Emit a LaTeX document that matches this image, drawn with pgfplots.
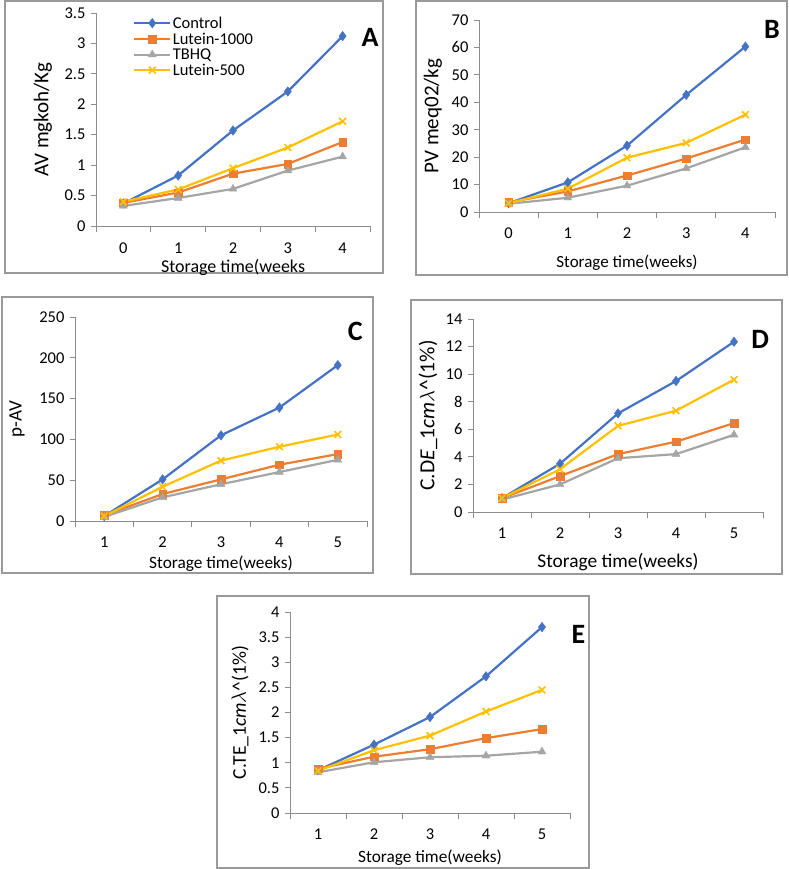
\documentclass[border=0pt]{standalone}
\usepackage{fontspec}
\setmainfont{Carlito}
\usepackage{pgfplots}
\pgfplotsset{compat=1.18}
\definecolor{cblue}{HTML}{4472C4}
\definecolor{corange}{HTML}{ED7D31}
\definecolor{cgray}{HTML}{A5A5A5}
\definecolor{cyellow}{HTML}{FFC000}
\definecolor{axisgray}{HTML}{8C8C8C}
\definecolor{framegray}{HTML}{9A9A9A}
\newcommand{\tfont}{\fontsize{16.5}{19}\selectfont}
\pgfplotsset{
  panel/.style={
    scale only axis, anchor=south west,
    axis lines=left, axis line style={-, draw=axisgray, line width=1pt},
    tick style={draw=axisgray, line width=1pt},
    tick align=outside, major tick length=5pt, minor tick length=6pt,
    major x tick style={draw=none},
    tick label style={font=\tfont},
    xticklabel style={yshift=-7pt},
    yticklabel style={xshift=-2pt},
    /pgf/number format/assume math mode=true,
    every axis y label/.style={at={(axis description cs:0,0.5)},rotate=90,anchor=center},
    every axis x label/.style={at={(axis description cs:0.5,0)},anchor=center},
    clip=false,
  },
  ctrl/.style={color=cblue, line width=2.2pt, mark=diamond*, mark size=4.8pt, mark options={line width=0.4pt}},
  lten/.style={color=corange, line width=2.2pt, mark=square*, mark size=3.8pt, mark options={line width=0.4pt}},
  tbhq/.style={color=cgray, line width=2.2pt, mark=triangle*, mark size=4.6pt, mark options={line width=0.4pt}},
  lfive/.style={color=cyellow, line width=2.2pt, mark=x, mark size=4.8pt, mark options={line width=1.6pt}},
}
\begin{document}
\begin{tikzpicture}
\useasboundingbox (0pt,0pt) rectangle (788pt,-869pt);
% frames
\draw[framegray, line width=1.3pt] (5pt,-1pt) rectangle (383pt,-273pt);
\draw[framegray, line width=1.3pt] (416pt,-1pt) rectangle (787pt,-275pt);
\draw[framegray, line width=1.3pt] (2pt,-297pt) rectangle (373pt,-573pt);
\draw[framegray, line width=1.3pt] (411pt,-300pt) rectangle (782pt,-574pt);
\draw[framegray, line width=1.3pt] (217pt,-596pt) rectangle (589pt,-868pt);

% Panel A
\begin{axis}[panel, at={(96pt,-226pt)}, width=274pt, height=213pt,
  xmin=-0.5, xmax=4.5, ymin=0, ymax=3.5,
  xtick={0,1,2,3,4}, minor xtick={-0.5,0.5,1.5,2.5,3.5,4.5},
  ytick={0,0.5,1,1.5,2,2.5,3,3.5},
  xticklabel style={yshift=-1pt},
  xlabel={Storage time(weeks}, ylabel={AV mgkoh/Kg},
  xlabel style={yshift=-41pt, font=\fontsize{18}{20}\selectfont},
  ylabel style={yshift=53pt, font=\fontsize{21}{24}\selectfont},
  legend style={at={(axis description cs:0.124,1.0)}, anchor=north west, draw=none, fill=none,
    font=\fontsize{16.5}{19}\selectfont, row sep=0pt, nodes={inner sep=1.5pt}},
  legend cell align=left,
  legend image code/.code={\draw[mark repeat=2,mark phase=2] plot coordinates {(0pt,0pt) (18pt,0pt) (36pt,0pt)};},
]
\addplot[ctrl] coordinates {(0,0.37) (1,0.83) (2,1.57) (3,2.21) (4,3.12)};
\addplot[lten] coordinates {(0,0.38) (1,0.55) (2,0.86) (3,1.02) (4,1.38)};
\addplot[tbhq] coordinates {(0,0.33) (1,0.46) (2,0.61) (3,0.91) (4,1.14)};
\addplot[lfive] coordinates {(0,0.40) (1,0.60) (2,0.95) (3,1.29) (4,1.72)};
\legend{Control, Lutein-1000, TBHQ, Lutein-500}
\node[font=\bfseries\fontsize{28}{30}\selectfont] at (axis cs:4.5,3.1) {A};
\end{axis}

% Panel B
\begin{axis}[panel, at={(479pt,-212pt)}, width=296pt, height=192pt,
  xmin=-0.5, xmax=4.5, ymin=0, ymax=70,
  xtick={0,1,2,3,4}, minor xtick={-0.5,0.5,1.5,2.5,3.5,4.5},
  ytick={0,10,20,30,40,50,60,70},
  xlabel={Storage time(weeks)}, ylabel={PV meq02/kg},
  xlabel style={yshift=-51pt, font=\fontsize{17}{20}\selectfont},
  ylabel style={yshift=46pt, font=\fontsize{21}{24}\selectfont},
]
\addplot[ctrl] coordinates {(0,3.2) (1,10.8) (2,24.2) (3,42.7) (4,60.3)};
\addplot[lten] coordinates {(0,3.5) (1,7.5) (2,13.3) (3,19.5) (4,26.4)};
\addplot[tbhq] coordinates {(0,3.0) (1,5.2) (2,9.6) (3,15.9) (4,23.6)};
\addplot[lfive] coordinates {(0,3.2) (1,8.5) (2,19.8) (3,25.2) (4,35.5)};
\node[font=\bfseries\fontsize{28}{30}\selectfont] at (axis cs:4.45,66.5) {B};
\end{axis}

% Panel C
\begin{axis}[panel, at={(75pt,-521pt)}, width=292pt, height=204pt,
  xmin=0.5, xmax=5.5, ymin=0, ymax=250,
  xtick={1,2,3,4,5}, minor xtick={0.5,1.5,2.5,3.5,4.5,5.5},
  ytick={0,50,100,150,200,250},
  xlabel={Storage time(weeks)}, ylabel={p-AV},
  xlabel style={yshift=-43pt, font=\fontsize{17.3}{20}\selectfont},
  ylabel style={yshift=58pt, font=\fontsize{19}{22}\selectfont},
]
\addplot[ctrl] coordinates {(1,6) (2,51) (3,105) (4,139) (5,191)};
\addplot[lten] coordinates {(1,7) (2,33) (3,51) (4,69) (5,82)};
\addplot[tbhq] coordinates {(1,5) (2,29) (3,45) (4,60) (5,75)};
\addplot[lfive] coordinates {(1,6) (2,42) (3,74) (4,91) (5,106)};
\node[font=\bfseries\fontsize{28}{30}\selectfont] at (axis cs:5.3,232) {C};
\end{axis}

% Panel D
\begin{axis}[panel, at={(473pt,-512pt)}, width=290pt, height=193pt,
  xmin=0.5, xmax=5.5, ymin=0, ymax=14,
  xtick={1,2,3,4,5}, minor xtick={0.5,1.5,2.5,3.5,4.5,5.5},
  ytick={0,2,4,6,8,10,12,14},
  xlabel={Storage time(weeks)}, ylabel={C.D\textit{E}\_1\textit{cm}$\lambda$\^{}(1\%)},
  xlabel style={yshift=-50pt, font=\fontsize{19.4}{22}\selectfont},
  ylabel style={yshift=45pt, font=\fontsize{21.5}{24}\selectfont},
]
\addplot[ctrl] coordinates {(1,1.0) (2,3.5) (3,7.15) (4,9.5) (5,12.35)};
\addplot[lten] coordinates {(1,1.0) (2,2.6) (3,4.2) (4,5.1) (5,6.45)};
\addplot[tbhq] coordinates {(1,0.9) (2,2.0) (3,3.9) (4,4.2) (5,5.6)};
\addplot[lfive] coordinates {(1,1.0) (2,3.1) (3,6.25) (4,7.35) (5,9.6)};
\node[font=\bfseries\fontsize{28}{30}\selectfont] at (axis cs:5.45,12.5) {D};
\end{axis}

% Panel E
\begin{axis}[panel, at={(290pt,-813pt)}, width=280pt, height=201pt,
  xmin=0.5, xmax=5.5, ymin=0, ymax=4,
  xtick={1,2,3,4,5}, minor xtick={0.5,1.5,2.5,3.5,4.5,5.5},
  ytick={0,0.5,1,1.5,2,2.5,3,3.5,4},
  xlabel={Storage time(weeks)}, ylabel={C.TE\_1\textit{cm}$\lambda$\^{}(1\%)},
  xlabel style={yshift=-45pt, font=\fontsize{17.3}{20}\selectfont},
  ylabel style={yshift=50pt, font=\fontsize{19.5}{22}\selectfont},
]
\addplot[ctrl] coordinates {(1,0.85) (2,1.36) (3,1.91) (4,2.72) (5,3.70)};
\addplot[lten] coordinates {(1,0.88) (2,1.12) (3,1.27) (4,1.49) (5,1.67)};
\addplot[tbhq] coordinates {(1,0.81) (2,1.01) (3,1.11) (4,1.14) (5,1.22)};
\addplot[lfive] coordinates {(1,0.84) (2,1.25) (3,1.54) (4,2.02) (5,2.45)};
\node[font=\bfseries\fontsize{28}{30}\selectfont] at (axis cs:5.65,3.55) {E};
\end{axis}
\end{tikzpicture}
\end{document}
